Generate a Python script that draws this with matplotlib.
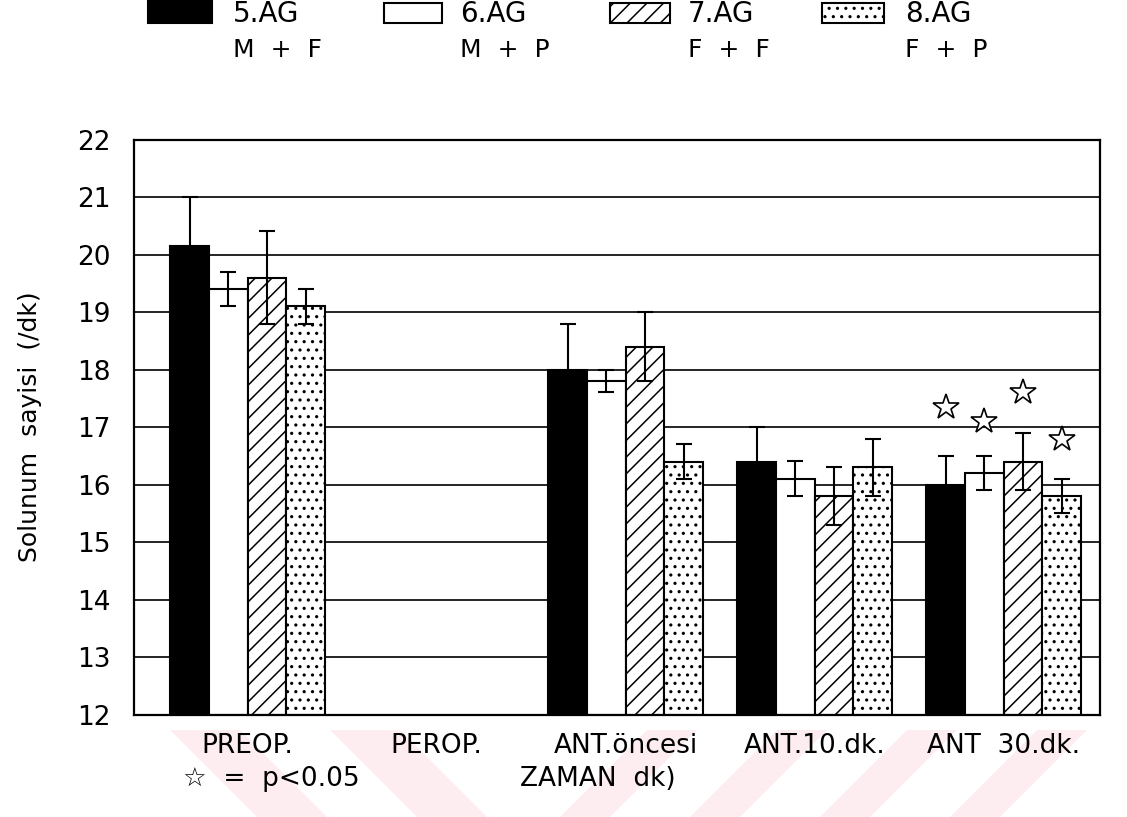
import matplotlib
matplotlib.use("Agg")
import matplotlib.pyplot as plt
from matplotlib.patches import Rectangle, Polygon
import numpy as np

# ---------------- data ----------------
categories = ["PREOP.", "PEROP.", "ANT.öncesi", "ANT.10.dk.", "ANT  30.dk."]
groups = ["5.AG", "6.AG", "7.AG", "8.AG"]
group_sub = ["M  +  F", "M  +  P", "F  +  F", "F  +  P"]
ag5 = [20.15, np.nan, 18.0, 16.4, 16.0]
ag5_err = [0.85, np.nan, 0.8, 0.6, 0.5]
ag6 = [19.4, np.nan, 17.8, 16.1, 16.2]
ag6_err = [0.3, np.nan, 0.2, 0.3, 0.3]
ag7 = [19.6, np.nan, 18.4, 15.8, 16.4]
ag7_err = [0.8, np.nan, 0.6, 0.5, 0.5]
ag8 = [19.1, np.nan, 16.4, 16.3, 15.8]
ag8_err = [0.3, np.nan, 0.3, 0.5, 0.3]
star_cat = 4                      # significance marks at ANT 30.dk.
star_y = [17.35, 17.1, 17.6, 16.8]
yticks = list(range(12, 23))
ylabel = "Solunum  sayisi  (/dk)"
xlabel = "ZAMAN  dk)"
note = "☆  =  p<0.05"

# ---------------- style ----------------
plt.rcParams['font.family'] = ['DejaVu Sans']
plt.rcParams['hatch.linewidth'] = 1.1
W, H = 1127, 817
fig = plt.figure(figsize=(W / 100, H / 100), dpi=100)

# faint pink watermark stripes at the bottom of the scanned page
pink = '#fdedf0'
band_top, band_bot = 730, 817
hgt = band_bot - band_top
for b in [560, 690, 820, 950]:
    poly = [(b, band_bot), (b + 50, band_bot), (b + 50 + hgt, band_top), (b + hgt, band_top)]
    fig.add_artist(Polygon([(px / W, 1 - py / H) for px, py in poly], closed=True,
                           transform=fig.transFigure, facecolor=pink, edgecolor='none', zorder=0))
for t in [170, 330]:
    poly = [(t, band_top), (t + 70, band_top), (t + 70 + hgt, band_bot), (t + hgt, band_bot)]
    fig.add_artist(Polygon([(px / W, 1 - py / H) for px, py in poly], closed=True,
                           transform=fig.transFigure, facecolor=pink, edgecolor='none', zorder=0))

ax = fig.add_axes([134 / W, 1 - 714.5 / H, (1100 - 134) / W, (714.5 - 139.5) / H])

fills = ['black', 'white', 'white', 'white']
hatches = [None, None, '//', '..']
series = [ag5, ag6, ag7, ag8]
errs = [ag5_err, ag6_err, ag7_err, ag8_err]

x = np.arange(len(categories))
bw = 0.205
offsets = (np.arange(4) - 1.5) * bw

for i in range(4):
    xs = x + offsets[i]
    vals = np.array(series[i], dtype=float)
    e = np.array(errs[i], dtype=float)
    ok = ~np.isnan(vals)
    ax.bar(xs[ok], vals[ok] - 12, bottom=12, width=bw, color=fills[i],
           edgecolor='black', linewidth=1.5, hatch=hatches[i], zorder=2)
    ax.errorbar(xs[ok], vals[ok], yerr=e[ok], fmt='none', ecolor='black',
                elinewidth=1.5, capsize=6, capthick=1.5, zorder=3)

# significance stars
ax.plot(star_cat + offsets, star_y, ls='none', marker='*', ms=19,
        mfc='white', mec='black', mew=1.2, zorder=4)

ax.set_xlim(-0.6016, 4.51)
ax.set_ylim(12, 22)
ax.set_yticks(yticks)
ax.set_yticklabels([str(t) for t in yticks], fontsize=19)
ax.set_xticks(x)
ax.set_xticklabels(categories, fontsize=19)
ax.tick_params(axis='both', length=0)
ax.tick_params(axis='y', pad=17)
ax.tick_params(axis='x', pad=13)
ax.yaxis.grid(True, color='black', linewidth=1.2)
ax.set_axisbelow(True)
for s in ax.spines.values():
    s.set_linewidth(1.6)
    s.set_color('black')

fig.text(30 / W, 1 - 427 / H, ylabel, rotation=90, ha='center', va='center', fontsize=18)
fig.text(183 / W, 1 - 779 / H, note, ha='left', va='center', fontsize=19)
fig.text(520 / W, 1 - 779 / H, xlabel, ha='left', va='center', fontsize=19)

# ---------------- legend (top) ----------------
patch_x = [(148, 212), (384, 442), (610, 670), (822, 884)]
text_x = [233, 460, 688, 905]
for i in range(4):
    x0, x1 = patch_x[i]
    y0, y1 = (0, 23) if i == 0 else (3, 23)
    r = Rectangle((x0 / W, 1 - y1 / H), (x1 - x0) / W, (y1 - y0) / H,
                  transform=fig.transFigure, facecolor=fills[i],
                  edgecolor='black', linewidth=1.5, hatch=hatches[i])
    fig.add_artist(r)
    fig.text(text_x[i] / W, 1 - 14 / H, groups[i], ha='left', va='center', fontsize=20)
    fig.text(text_x[i] / W, 1 - 50 / H, group_sub[i], ha='left', va='center', fontsize=18)

fig.savefig("out.png", dpi=100)
